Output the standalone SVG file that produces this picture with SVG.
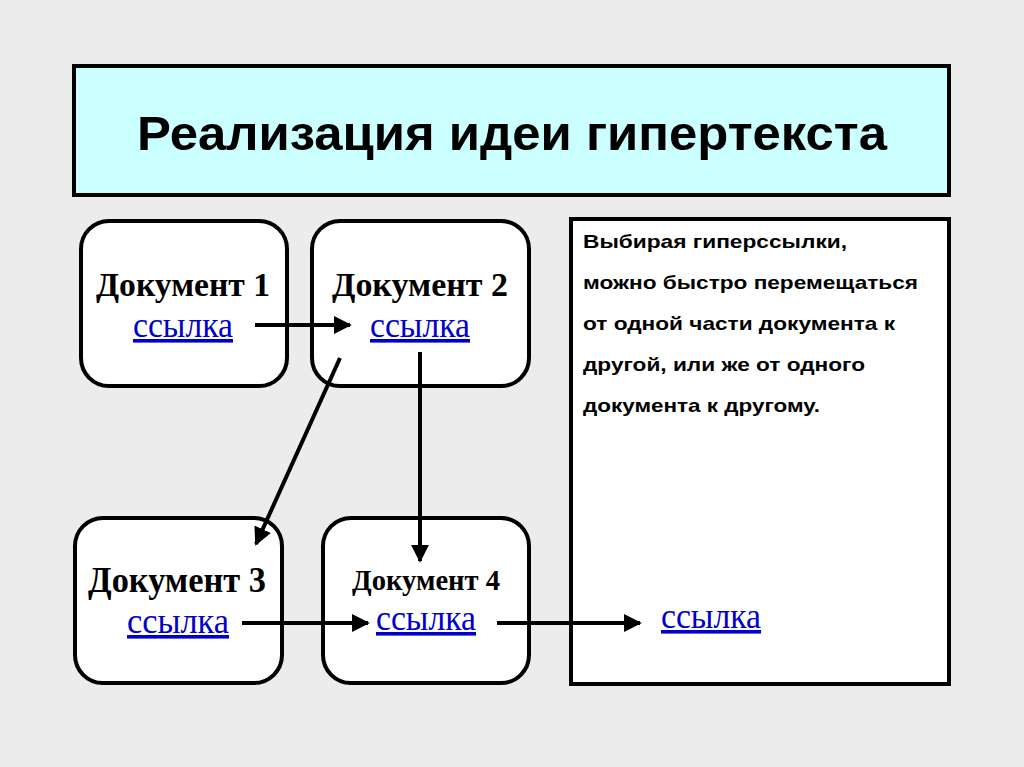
<svg xmlns="http://www.w3.org/2000/svg" width="1024" height="767" viewBox="0 0 1024 767">
<style>
.doc{fill:#fff;stroke:#000;stroke-width:4}
.dt{font-family:"Liberation Serif","Times New Roman",serif;font-weight:bold;fill:#000;text-anchor:middle}
.lk{font-family:"Liberation Serif","Times New Roman",serif;font-size:36px;fill:#0000cc;text-anchor:middle;text-decoration:underline}
.ar{stroke:#000;stroke-width:4;fill:none;marker-end:url(#ah)}
.bt{font-family:"Liberation Sans",Arial,sans-serif;font-weight:bold;font-size:19px;fill:#000}
</style>
<defs>
<marker id="ah" viewBox="0 0 10 10" refX="9" refY="5" markerWidth="4.5" markerHeight="4.5" orient="auto" markerUnits="strokeWidth">
<path d="M0,0 L10,5 L0,10 z" fill="#000"/>
</marker>
</defs>
<rect width="1024" height="767" fill="#ececec"/>
<g id="title">
<rect x="74" y="66" width="875" height="129" fill="#ccffff" stroke="#000" stroke-width="4"/>
<text x="512" y="150" font-family="'Liberation Sans',Arial,sans-serif" font-weight="bold" font-size="49" text-anchor="middle" textLength="750" lengthAdjust="spacingAndGlyphs">Реализация идеи гипертекста</text>
</g>
<g id="doc1">
<rect class="doc" x="81" y="221" width="206" height="165" rx="28"/>
<text class="dt" x="183" y="296" font-size="33" textLength="174" lengthAdjust="spacingAndGlyphs">Документ 1</text>
<text class="lk" x="183" y="337" textLength="100" lengthAdjust="spacingAndGlyphs">ссылка</text>
</g>
<g id="doc2">
<rect class="doc" x="312" y="221" width="217" height="165" rx="28"/>
<text class="dt" x="420" y="296" font-size="33" textLength="176" lengthAdjust="spacingAndGlyphs">Документ 2</text>
<text class="lk" x="420" y="337" textLength="100" lengthAdjust="spacingAndGlyphs">ссылка</text>
</g>
<g id="doc3">
<rect class="doc" x="75" y="518" width="207" height="165" rx="28"/>
<text class="dt" x="177" y="592" font-size="35" textLength="178" lengthAdjust="spacingAndGlyphs">Документ 3</text>
<text class="lk" x="178" y="633" textLength="102" lengthAdjust="spacingAndGlyphs">ссылка</text>
</g>
<g id="doc4">
<rect class="doc" x="323" y="518" width="206" height="165" rx="28"/>
<text class="dt" x="426" y="590" font-size="29" textLength="148" lengthAdjust="spacingAndGlyphs">Документ 4</text>
<text class="lk" x="426" y="630" textLength="100" lengthAdjust="spacingAndGlyphs">ссылка</text>
</g>
<g id="note">
<rect x="571" y="219" width="378" height="465" fill="#fff" stroke="#000" stroke-width="4"/>
<text class="bt" x="583" y="248" textLength="264" lengthAdjust="spacingAndGlyphs">Выбирая гиперссылки,</text>
<text class="bt" x="583" y="289" textLength="335" lengthAdjust="spacingAndGlyphs">можно быстро перемещаться</text>
<text class="bt" x="583" y="330" textLength="312" lengthAdjust="spacingAndGlyphs">от одной части документа к</text>
<text class="bt" x="583" y="371" textLength="282" lengthAdjust="spacingAndGlyphs">другой, или же от одного</text>
<text class="bt" x="583" y="412" textLength="237" lengthAdjust="spacingAndGlyphs">документа к другому.</text>
<text class="lk" x="711" y="628" textLength="100" lengthAdjust="spacingAndGlyphs">ссылка</text>
</g>
<g id="connectors">
<line class="ar" x1="255" y1="325" x2="350" y2="325"/>
<line class="ar" x1="340" y1="358" x2="256" y2="544"/>
<line class="ar" x1="420" y1="352" x2="420" y2="561"/>
<line class="ar" x1="242" y1="623" x2="368" y2="623"/>
<line class="ar" x1="497" y1="623" x2="640" y2="623"/>
</g>
</svg>
